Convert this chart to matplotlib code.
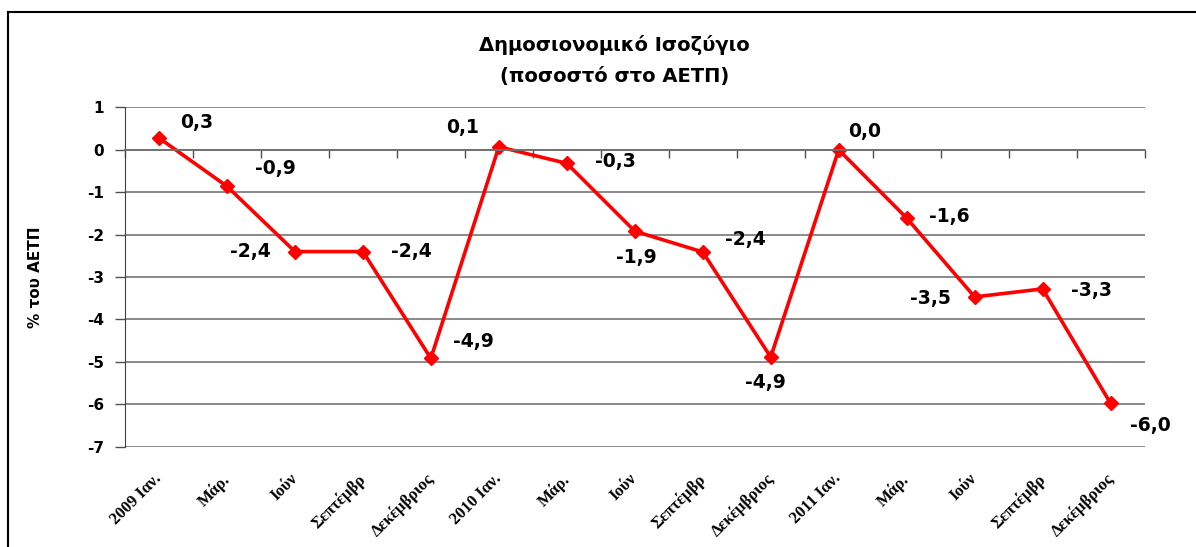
import matplotlib
matplotlib.use('Agg')
import matplotlib.pyplot as plt
from matplotlib.lines import Line2D
import numpy as np

# δεδομένα
months = ['2009 Ιαν.', 'Μάρ.', 'Ιούν', 'Σεπτέμβρ', 'Δεκέμβριος',
          '2010 Ιαν.', 'Μάρ.', 'Ιούν', 'Σεπτέμβρ', 'Δεκέμβριος',
          '2011 Ιαν.', 'Μάρ.', 'Ιούν', 'Σεπτέμβρ', 'Δεκέμβριος']
balance = [0.28, -0.86, -2.4, -2.4, -4.92, 0.07, -0.32, -1.92,
           -2.41, -4.89, 0.0, -1.61, -3.47, -3.28, -5.98]
y_ticks = [1, 0, -1, -2, -3, -4, -5, -6, -7]

# θέσεις ετικετών τιμών (offset σε points)
label_offsets = [(27, 11), (35, 13), (-32, 0), (35, 0), (31, 12),
                 (-26, 14), (35, 1), (1, -19), (31, 9), (-4, -18),
                 (19, 13), (31, 1), (-32, -1), (35, -1), (29, -16)]

plt.rcParams['axes.unicode_minus'] = False
plt.rcParams['font.family'] = ['DejaVu Sans']

fig = plt.figure(figsize=(11.96, 5.47), dpi=100)
ax = fig.add_axes([0.1045, 0.1828, 0.8525, 0.6216])

x = np.arange(len(months))
ax.plot(x, balance, color='#FF0000', linewidth=2.6, marker='D', markersize=7.5)

for i, v in enumerate(balance):
    txt = f"{v:.1f}".replace('.', ',')
    ax.annotate(txt, xy=(i, v), xytext=label_offsets[i], textcoords='offset points',
                ha='center', va='center', fontsize=13.5, fontweight='bold')

ax.set_xlim(-0.5, len(months) - 0.5)
ax.set_ylim(-7.01, 1.01)
ax.set_yticks(y_ticks)
ax.set_yticklabels([str(t) for t in y_ticks], fontsize=11, fontweight='bold')
ax.yaxis.grid(True, color='#808080', linewidth=1.3)
ax.set_axisbelow(True)

# άξονας x στο μηδέν με υποδιαιρέσεις ανάμεσα στις κατηγορίες
ax.spines['bottom'].set_position(('data', 0))
ax.spines['bottom'].set_color('#707070')
ax.spines['bottom'].set_linewidth(1.3)
ax.set_xticks(np.arange(-0.5, len(months), 1))
ax.set_xticklabels([])
ax.tick_params(axis='x', direction='out', length=6, width=1, color='#505050')
ax.tick_params(axis='y', direction='out', length=7, width=1, color='#505050', pad=8)
ax.spines['left'].set_color('#404040')
ax.spines['top'].set_visible(False)
ax.spines['right'].set_visible(False)

for i, m in enumerate(months):
    ax.annotate(m, xy=(i, 0), xycoords=('data', 'axes fraction'),
                xytext=(-4, -17), textcoords='offset points',
                rotation=45, ha='right', va='top', rotation_mode='anchor',
                fontsize=12, fontweight='bold', family='Liberation Serif')

ax.set_ylabel('% του ΑΕΤΠ', fontsize=11, fontweight='bold')
ax.yaxis.set_label_coords(-0.08, 0.5)

fig.text(0.514, 0.918, 'Δημοσιονομικό Ισοζύγιο', ha='center', va='center',
         fontsize=14, fontweight='bold')
fig.text(0.514, 0.861, '(ποσοστό στο ΑΕΤΠ)', ha='center', va='center',
         fontsize=14, fontweight='bold')

# περίγραμμα
fig.add_artist(Line2D([0.0067, 1.0], [0.978, 0.978], color='black', linewidth=1.5))
fig.add_artist(Line2D([0.0067, 0.0067], [0.0, 0.978], color='black', linewidth=1.5))

fig.savefig('out.png', dpi=100)
